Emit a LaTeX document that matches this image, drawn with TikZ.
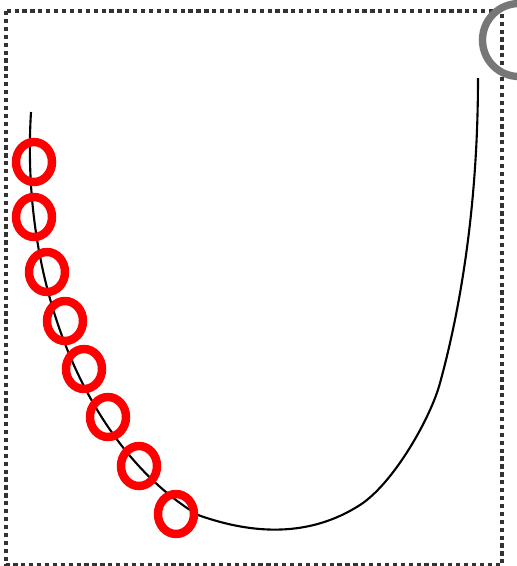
\documentclass[tikz,border=0pt]{standalone}
\usetikzlibrary{shapes.geometric}
\definecolor{marco}{HTML}{333333}
\definecolor{gris}{HTML}{777777}
\tikzset{
  anillo/.style={draw=red, line width=4.8pt, ellipse, inner sep=0pt,
    minimum width=0.72cm, minimum height=0.8cm},
}
\begin{document}
\begin{tikzpicture}[x=0.02cm, y=-0.02cm]
  \useasboundingbox (0,0) rectangle (517,566);
  % Marco punteado
  \draw[marco, line width=2.4pt, dash pattern=on 2.4pt off 2.1pt] (6,11) rectangle (502,565);

  % Curva
  \draw[line width=1.2pt] (31,112) .. controls (20,290) and (90,450) .. (198,515)
    .. controls (254,535) and (310,537) .. (360,505)
    .. controls (394,483) and (431,417) .. (440,383)
    .. controls (456,325) and (478,220) .. (478,78);

  % Circulo gris
  \node[draw=gris, line width=4.2pt, circle, inner sep=0pt, minimum size=1.46cm] (meta) at (519,40) {};

  % Anillos rojos
  \node[anillo] (p1) at (34,162) {};
  \node[anillo] (p2) at (34,217) {};
  \node[anillo] (p3) at (47,272) {};
  \node[anillo] (p4) at (65,321) {};
  \node[anillo] (p5) at (84,369) {};
  \node[anillo] (p6) at (108,417) {};
  \node[anillo] (p7) at (139,466) {};
  \node[anillo] (p8) at (176,514) {};
\end{tikzpicture}
\end{document}
